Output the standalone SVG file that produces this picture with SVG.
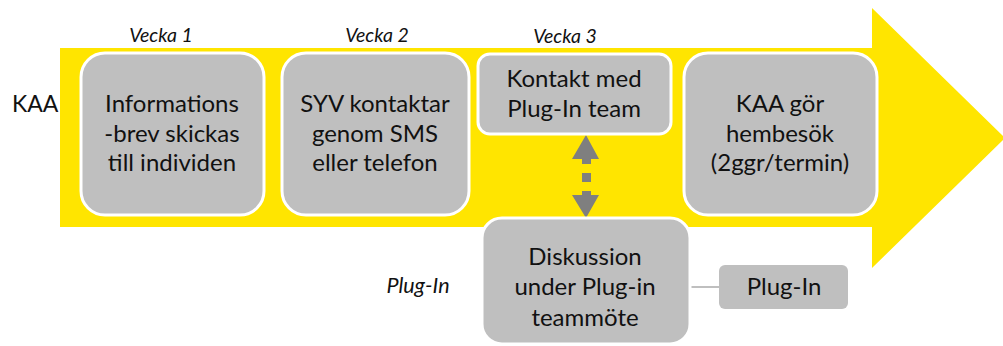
<svg xmlns="http://www.w3.org/2000/svg" width="1003" height="346" viewBox="0 0 1003 346">
<style>
.box{fill:#BFBFBF;stroke:#FFFFFF;stroke-width:3}
.t{font-family:Lato,"Open Sans","Liberation Sans",sans-serif;font-size:24px;fill:#111;text-anchor:middle}
.lbl{font-family:Lato,"Open Sans","Liberation Sans",sans-serif;font-size:23px;fill:#111}
.it{font-family:Lato,"Open Sans","Liberation Sans",sans-serif;font-size:19.5px;font-style:italic;fill:#111;text-anchor:middle}
.it.big{font-size:21.5px}
.arr{fill:#7F7F7F}
</style>
<rect width="1003" height="346" fill="#FFFFFF"/>
<g id="band">
<polygon points="60,48 872,48 872,8 1005,138 872,268 872,227 60,227" fill="#FFE500"/>
</g>
<g id="labels">
<text class="lbl" x="12" y="112">KAA</text>
<text class="it" x="161" y="42">Vecka 1</text>
<text class="it" x="377" y="42">Vecka 2</text>
<text class="it" x="565" y="43">Vecka 3</text>
<text class="it big" x="418" y="293">Plug-In</text>
</g>
<g id="connectors">
<line x1="690" y1="287" x2="719" y2="287" stroke="#BFBFBF" stroke-width="2"/>
<polygon class="arr" points="586,135 599,159 591,159 591,164 582,164 582,159 572,159"/>
<rect class="arr" x="582" y="173" width="9" height="9"/>
<polygon class="arr" points="582,191 591,191 591,195 599,195 586,218 572,195 582,195"/>
</g>
<g id="n1">
<rect class="box" x="81" y="53" width="183" height="162" rx="24"/>
<text class="t" x="172" y="112">Informations</text>
<text class="t" x="172" y="142">-brev skickas</text>
<text class="t" x="172" y="171">till individen</text>
</g>
<g id="n2">
<rect class="box" x="282" y="53" width="187" height="162" rx="24"/>
<text class="t" x="375" y="112">SYV kontaktar</text>
<text class="t" x="375" y="142">genom SMS</text>
<text class="t" x="375" y="171">eller telefon</text>
</g>
<g id="n3">
<rect class="box" x="478" y="54" width="193" height="80" rx="12"/>
<text class="t" x="574" y="87">Kontakt med</text>
<text class="t" x="574" y="117">Plug-In team</text>
</g>
<g id="n4">
<rect class="box" x="684" y="53" width="193" height="162" rx="24"/>
<text class="t" x="780" y="112">KAA gör</text>
<text class="t" x="780" y="142">hembesök</text>
<text class="t" x="780" y="171">(2ggr/termin)</text>
</g>
<g id="n5">
<rect class="box" x="482" y="218" width="208" height="126" rx="20"/>
<text class="t" x="585" y="265">Diskussion</text>
<text class="t" x="585" y="295">under Plug-in</text>
<text class="t" x="585" y="326">teammöte</text>
</g>
<g id="n6">
<rect x="719" y="265" width="129" height="44" rx="6" fill="#BFBFBF"/>
<text class="t" x="784" y="295">Plug-In</text>
</g>
</svg>
